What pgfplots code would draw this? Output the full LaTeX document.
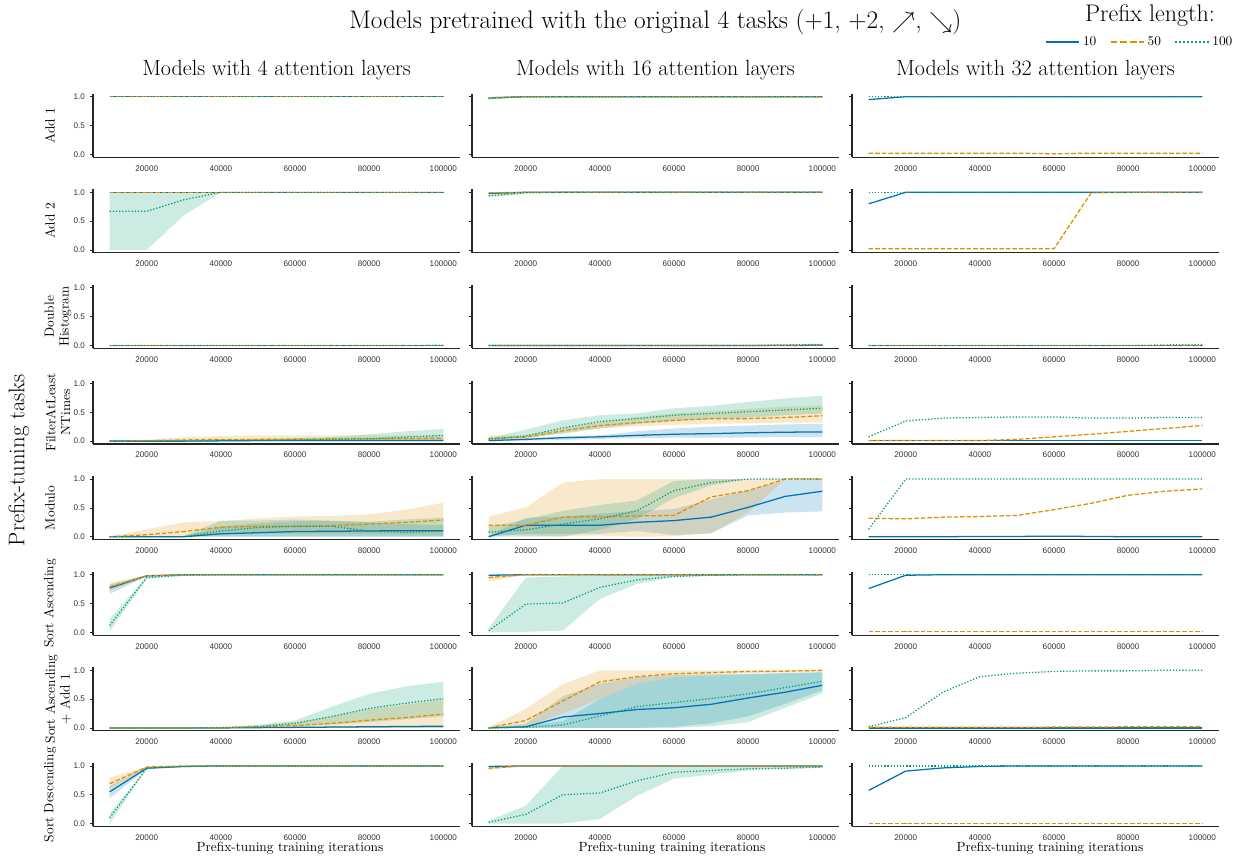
\documentclass[border=0pt]{standalone}
\usepackage{fontspec}
\usepackage{pgfplots}
\usepackage{pgfplotstable}
\pgfplotsset{compat=1.18}
\newfontfamily\ticksans{Liberation Sans}
\definecolor{c10}{HTML}{0173B2}
\definecolor{c50}{HTML}{DE8F05}
\definecolor{c100}{HTML}{029E73}
\definecolor{axgray}{HTML}{262626}
\definecolor{tickgray}{HTML}{333333}

\pgfplotsset{
  panel/.style={
    scale only axis, width=275.25pt, height=47.55pt, anchor=south west,
    xmin=5500, xmax=104500, ymin=-0.05, ymax=1.05,
    axis x line*=bottom, axis y line*=left,
    axis line style={-, line width=0.9pt, color=axgray},
    xtick={20000,40000,60000,80000,100000}, ytick={0,0.5,1},
    scaled x ticks=false,
    /pgf/number format/assume math mode=true,
    x tick label style={/pgf/number format/.cd, fixed, 1000 sep={}},
    y tick label style={/pgf/number format/.cd, fixed, fixed zerofill, precision=1},
    tick label style={font=\ticksans\fontsize{6.1}{7}\selectfont, text=tickgray},
    tick align=outside, major tick length=2.6pt,
    xtick style={draw=none},
    ytick style={line width=0.6pt, color=axgray},
    no markers,
  },
  line10/.style={c10, line width=0.95pt},
  line50/.style={c50, line width=0.95pt, dash pattern=on 3.4pt off 1.5pt},
  line100/.style={c100, line width=0.95pt, dash pattern=on 0.95pt off 1.4pt},
}

\newcommand{\bandpanel}[4]{%
\begin{axis}[panel, at={(#1,#2)}, #4]
 \addplot[draw=none, stack plots=y] table[x=x,y=l1]{#3};
 \addplot[fill=c10, fill opacity=0.2, draw=none, stack plots=y] table[x=x,y expr=\thisrow{u1}-\thisrow{l1}]{#3} \closedcycle;
 \addplot[draw=none, stack plots=y] table[x=x,y expr=\thisrow{l2}-\thisrow{u1}]{#3};
 \addplot[fill=c50, fill opacity=0.2, draw=none, stack plots=y] table[x=x,y expr=\thisrow{u2}-\thisrow{l2}]{#3} \closedcycle;
 \addplot[draw=none, stack plots=y] table[x=x,y expr=\thisrow{l3}-\thisrow{u2}]{#3};
 \addplot[fill=c100, fill opacity=0.2, draw=none, stack plots=y] table[x=x,y expr=\thisrow{u3}-\thisrow{l3}]{#3} \closedcycle;
 \addplot[line10] table[x=x,y=m1]{#3};
 \addplot[line50] table[x=x,y=m2]{#3};
 \addplot[line100] table[x=x,y=m3]{#3};
\end{axis}}

\newcommand{\linepanel}[4]{%
\begin{axis}[panel, at={(#1,#2)}, #4]
 \addplot[line10] table[x=x,y=m1]{#3};
 \addplot[line50] table[x=x,y=m2]{#3};
 \addplot[line100] table[x=x,y=m3]{#3};
\end{axis}}

% ---------------- data ----------------
\pgfplotstableread{
x m1 m2 m3
10000 1 1 1
20000 1 1 1
30000 1 1 1
40000 1 1 1
50000 1 1 1
60000 1 1 1
70000 1 1 1
80000 1 1 1
90000 1 1 1
100000 1 1 1
}\tAA
\pgfplotstableread{
x m1 l1 u1 m2 l2 u2 m3 l3 u3
10000 0.98 0.97 0.99 0.98 0.97 0.99 0.97 0.95 0.99
20000 1 1 1 1 1 1 1 1 1
30000 1 1 1 1 1 1 1 1 1
40000 1 1 1 1 1 1 1 1 1
50000 1 1 1 1 1 1 1 1 1
60000 1 1 1 1 1 1 1 1 1
70000 1 1 1 1 1 1 1 1 1
80000 1 1 1 1 1 1 1 1 1
90000 1 1 1 1 1 1 1 1 1
100000 1 1 1 1 1 1 1 1 1
}\tAB
\pgfplotstableread{
x m1 m2 m3
10000 0.95 0.02 1
20000 1 0.02 1
30000 1 0.02 1
40000 1 0.02 1
50000 1 0.02 1
60000 1 0.01 1
70000 1 0.02 1
80000 1 0.02 1
90000 1 0.02 1
100000 1 0.02 1
}\tAC
\pgfplotstableread{
x m1 l1 u1 m2 l2 u2 m3 l3 u3
10000 1 1 1 1 1 1 0.67 0 1
20000 1 1 1 1 1 1 0.67 0 1
30000 1 1 1 1 1 1 0.87 0.6 1
40000 1 1 1 1 1 1 1 1 1
50000 1 1 1 1 1 1 1 1 1
60000 1 1 1 1 1 1 1 1 1
70000 1 1 1 1 1 1 1 1 1
80000 1 1 1 1 1 1 1 1 1
90000 1 1 1 1 1 1 1 1 1
100000 1 1 1 1 1 1 1 1 1
}\tBA
\pgfplotstableread{
x m1 l1 u1 m2 l2 u2 m3 l3 u3
10000 0.98 0.97 0.99 0.99 0.98 1 0.94 0.91 0.97
20000 1 1 1 1 1 1 0.99 0.98 1
30000 1 1 1 1 1 1 1 1 1
40000 1 1 1 1 1 1 1 1 1
50000 1 1 1 1 1 1 1 1 1
60000 1 1 1 1 1 1 1 1 1
70000 1 1 1 1 1 1 1 1 1
80000 1 1 1 1 1 1 1 1 1
90000 1 1 1 1 1 1 1 1 1
100000 1 1 1 1 1 1 1 1 1
}\tBB
\pgfplotstableread{
x m1 m2 m3
10000 0.8 0.02 1
20000 1 0.02 1
30000 1 0.02 1
40000 1 0.02 1
50000 1 0.02 1
60000 1 0.02 1
70000 1 0.99 1
80000 1 1 1
90000 1 1 1
100000 1 1 1
}\tBC
\pgfplotstableread{
x m1 m2 m3
10000 0 0 0
20000 0 0 0
30000 0 0 0
40000 0 0 0
50000 0 0 0
60000 0 0 0
70000 0 0 0
80000 0 0 0
90000 0 0 0
100000 0 0 0.005
}\tCA
\pgfplotstableread{
x m1 m2 m3
10000 0 0 0
20000 0 0 0
30000 0 0 0
40000 0 0 0
50000 0 0 0
60000 0 0 0
70000 0 0 0
80000 0 0 0
90000 0 0.005 0.01
100000 0.005 0.01 0.02
}\tCB
\pgfplotstableread{
x m1 m2 m3
10000 0 0 0
20000 0 0 0
30000 0 0 0
40000 0 0 0
50000 0 0 0
60000 0 0 0
70000 0 0 0
80000 0 0 0
90000 0 0 0.01
100000 0 0 0.02
}\tCC
\pgfplotstableread{
x m1 l1 u1 m2 l2 u2 m3 l3 u3
10000 0 0 0 0 0 0 0 0 0
20000 0 0 0 0.01 0 0.02 0 0 0
30000 0 0 0.01 0.02 0 0.07 0 0 0.01
40000 0.005 0 0.01 0.03 0 0.09 0.01 0 0.03
50000 0.01 0 0.02 0.03 0 0.1 0.01 0 0.04
60000 0.01 0 0.02 0.035 0 0.1 0.02 0 0.05
70000 0.01 0 0.02 0.04 0 0.1 0.03 0 0.07
80000 0.01 0 0.02 0.04 0 0.1 0.04 0 0.12
90000 0.01 0 0.02 0.045 0 0.1 0.07 0.01 0.17
100000 0.01 0 0.02 0.05 0 0.1 0.1 0.02 0.21
}\tDA
\pgfplotstableread{
x m1 l1 u1 m2 l2 u2 m3 l3 u3
10000 0.01 0 0.02 0.05 0.01 0.1 0.03 0.02 0.05
20000 0.03 0.01 0.05 0.07 0.04 0.1 0.09 0.06 0.2
30000 0.06 0.02 0.08 0.18 0.14 0.22 0.23 0.13 0.36
40000 0.075 0.04 0.1 0.27 0.22 0.33 0.34 0.22 0.45
50000 0.1 0.05 0.17 0.32 0.26 0.42 0.39 0.3 0.48
60000 0.12 0.06 0.22 0.36 0.28 0.48 0.45 0.35 0.57
70000 0.13 0.06 0.25 0.39 0.3 0.52 0.48 0.38 0.61
80000 0.145 0.065 0.27 0.39 0.31 0.56 0.51 0.41 0.68
90000 0.155 0.07 0.29 0.41 0.32 0.6 0.54 0.45 0.74
100000 0.16 0.07 0.3 0.44 0.32 0.61 0.57 0.48 0.79
}\tDB
\pgfplotstableread{
x m1 m2 m3
10000 0.005 0.01 0.075
20000 0.005 0.01 0.35
30000 0.005 0.01 0.4
40000 0.005 0.01 0.41
50000 0.005 0.03 0.42
60000 0.005 0.075 0.42
70000 0.005 0.12 0.4
80000 0.005 0.17 0.4
90000 0.005 0.22 0.41
100000 0.005 0.27 0.41
}\tDC
\pgfplotstableread{
x m1 l1 u1 m2 l2 u2 m3 l3 u3
10000 0 0 0 0 0 0 0 0 0
20000 0 0 0 0.035 0 0.13 0 0 0
30000 0 0 0.01 0.09 0 0.25 0 0 0.01
40000 0.05 0 0.18 0.165 0.05 0.27 0.1 0 0.28
50000 0.07 0 0.23 0.18 0.06 0.32 0.16 0 0.28
60000 0.09 0 0.27 0.18 0.05 0.35 0.18 0 0.3
70000 0.095 0 0.27 0.19 0.05 0.36 0.18 0 0.28
80000 0.1 0 0.25 0.22 0.05 0.39 0.1 0 0.26
90000 0.105 0 0.22 0.25 0.03 0.47 0.075 0 0.3
100000 0.105 0 0.2 0.29 0.02 0.59 0.1 0 0.33
}\tEA
\pgfplotstableread{
x m1 l1 u1 m2 l2 u2 m3 l3 u3
10000 0 0 0.02 0.2 0.05 0.35 0.08 0 0.17
20000 0.2 0.05 0.33 0.2 0.02 0.51 0.12 0 0.3
30000 0.2 0.05 0.35 0.34 0.01 0.94 0.22 0 0.45
40000 0.2 0.05 0.4 0.35 0.02 1 0.31 0.12 0.55
50000 0.25 0.1 0.45 0.36 0 1 0.45 0.31 0.63
60000 0.28 0.03 0.48 0.37 0.01 1 0.8 0.67 0.97
70000 0.34 0.06 0.65 0.69 0.06 1 0.94 0.89 1
80000 0.51 0.37 0.8 0.8 0.42 1 1 1 1
90000 0.7 0.42 0.98 1 1 1 1 1 1
100000 0.79 0.44 1 1 1 1 1 1 1
}\tEB
\pgfplotstableread{
x m1 m2 m3
10000 0 0.32 0.13
20000 0 0.31 1
30000 0 0.34 1
40000 0.005 0.35 1
50000 0.005 0.37 1
60000 0.01 0.47 1
70000 0.005 0.58 1
80000 0 0.72 1
90000 0 0.79 1
100000 0 0.83 1
}\tEC
\pgfplotstableread{
x m1 l1 u1 m2 l2 u2 m3 l3 u3
10000 0.77 0.67 0.83 0.79 0.72 0.86 0.12 0.02 0.24
20000 0.98 0.97 0.99 0.98 0.97 0.99 0.95 0.93 0.97
30000 1 1 1 1 1 1 0.99 0.99 1
40000 1 1 1 1 1 1 1 1 1
50000 1 1 1 1 1 1 1 1 1
60000 1 1 1 1 1 1 1 1 1
70000 1 1 1 1 1 1 1 1 1
80000 1 1 1 1 1 1 1 1 1
90000 1 1 1 1 1 1 1 1 1
100000 1 1 1 1 1 1 1 1 1
}\tFA
\pgfplotstableread{
x m1 l1 u1 m2 l2 u2 m3 l3 u3
10000 0.99 0.98 1 0.95 0.88 1 0.03 0 0.07
20000 1 1 1 1 1 1 0.49 0.01 0.95
30000 1 1 1 1 1 1 0.51 0.03 0.97
40000 1 1 1 1 1 1 0.78 0.58 0.99
50000 1 1 1 1 1 1 0.91 0.84 1
60000 1 1 1 1 1 1 0.97 0.96 1
70000 1 1 1 1 1 1 0.99 0.98 1
80000 1 1 1 1 1 1 1 1 1
90000 1 1 1 1 1 1 1 1 1
100000 1 1 1 1 1 1 1 1 1
}\tFB
\pgfplotstableread{
x m1 m2 m3
10000 0.76 0.01 1
20000 0.99 0.01 1
30000 1 0.01 1
40000 1 0.01 1
50000 1 0.01 1
60000 1 0.01 1
70000 1 0.01 1
80000 1 0.01 1
90000 1 0.01 1
100000 1 0.01 1
}\tFC
\pgfplotstableread{
x m1 l1 u1 m2 l2 u2 m3 l3 u3
10000 0 0 0 0 0 0 0 0 0
20000 0 0 0 0 0 0 0 0 0
30000 0 0 0 0 0 0 0 0 0
40000 0 0 0.005 0.005 0 0.01 0.005 0 0.01
50000 0.005 0 0.01 0.02 0 0.05 0.02 0 0.05
60000 0.01 0 0.02 0.04 0 0.1 0.08 0.03 0.13
70000 0.015 0 0.025 0.08 0 0.2 0.2 0.06 0.37
80000 0.02 0 0.03 0.135 0 0.33 0.34 0.1 0.59
90000 0.025 0 0.035 0.18 0 0.4 0.43 0.15 0.72
100000 0.03 0 0.04 0.24 0 0.5 0.51 0.2 0.8
}\tGA
\pgfplotstableread{
x m1 l1 u1 m2 l2 u2 m3 l3 u3
10000 0 0 0.01 0 0 0.01 0 0 0.01
20000 0.02 0 0.07 0.13 0.01 0.33 0.01 0 0.03
30000 0.19 0 0.55 0.47 0.25 0.76 0.05 0 0.12
40000 0.25 0 0.77 0.8 0.5 1 0.21 0 0.5
50000 0.32 0 0.88 0.89 0.76 1 0.37 0 0.76
60000 0.35 0.02 0.92 0.94 0.88 1 0.44 0 0.88
70000 0.41 0.08 0.93 0.96 0.92 1 0.51 0.03 0.91
80000 0.52 0.2 0.94 0.98 0.95 1 0.59 0.1 0.93
90000 0.62 0.42 0.95 0.985 0.96 1 0.7 0.35 0.95
100000 0.74 0.65 0.96 1 0.97 1 0.81 0.6 0.97
}\tGB
\pgfplotstableread{
x m1 m2 m3
10000 0 0.01 0.02
20000 0 0.01 0.18
30000 0 0.01 0.62
40000 0 0.01 0.89
50000 0 0.01 0.95
60000 0 0.015 0.98
70000 0 0.015 0.99
80000 0 0.02 0.99
90000 0 0.02 1
100000 0 0.02 1
}\tGC
\pgfplotstableread{
x m1 l1 u1 m2 l2 u2 m3 l3 u3
10000 0.55 0.44 0.65 0.69 0.6 0.8 0.1 0 0.17
20000 0.96 0.95 0.98 0.98 0.97 0.99 0.96 0.95 0.97
30000 0.99 0.99 1 1 1 1 0.99 0.99 1
40000 1 1 1 1 1 1 1 1 1
50000 1 1 1 1 1 1 1 1 1
60000 1 1 1 1 1 1 1 1 1
70000 1 1 1 1 1 1 1 1 1
80000 1 1 1 1 1 1 1 1 1
90000 1 1 1 1 1 1 1 1 1
100000 1 1 1 1 1 1 1 1 1
}\tHA
\pgfplotstableread{
x m1 l1 u1 m2 l2 u2 m3 l3 u3
10000 0.99 0.98 1 0.96 0.93 1 0.02 0 0.05
20000 1 1 1 1 1 1 0.16 0 0.31
30000 1 1 1 1 1 1 0.5 0 1
40000 1 1 1 1 1 1 0.53 0.08 1
50000 1 1 1 1 1 1 0.74 0.48 1
60000 1 1 1 1 1 1 0.89 0.78 1
70000 1 1 1 1 1 1 0.92 0.85 1
80000 1 1 1 1 1 1 0.95 0.92 0.99
90000 1 1 1 1 1 1 0.96 0.95 0.99
100000 1 1 1 1 1 1 0.98 0.97 0.99
}\tHB
\pgfplotstableread{
x m1 m2 m3
10000 0.575 0 1
20000 0.91 0 1
30000 0.965 0 1
40000 0.99 0 1
50000 1 0 1
60000 1 0 1
70000 1 0 1
80000 1 0 1
90000 1 0 1
100000 1 0 1
}\tHC

\def\cA{69.75pt}
\def\cB{354pt}
\def\cC{639pt}
\def\noyl{yticklabels={}}

\begin{document}
\begin{tikzpicture}
\useasboundingbox (0,0) rectangle (933pt,-643.5pt);

% row 0
\linepanel{\cA}{-117.9pt}{\tAA}{}
\bandpanel{\cB}{-117.9pt}{\tAB}{\noyl}
\linepanel{\cC}{-117.9pt}{\tAC}{\noyl}
% row 1
\bandpanel{\cA}{-189.6pt}{\tBA}{}
\bandpanel{\cB}{-189.6pt}{\tBB}{\noyl}
\linepanel{\cC}{-189.6pt}{\tBC}{\noyl}
% row 2
\linepanel{\cA}{-261.3pt}{\tCA}{}
\linepanel{\cB}{-261.3pt}{\tCB}{\noyl}
\linepanel{\cC}{-261.3pt}{\tCC}{\noyl}
% row 3
\bandpanel{\cA}{-333.0pt}{\tDA}{}
\bandpanel{\cB}{-333.0pt}{\tDB}{\noyl}
\linepanel{\cC}{-333.0pt}{\tDC}{\noyl}
% row 4
\bandpanel{\cA}{-404.7pt}{\tEA}{}
\bandpanel{\cB}{-404.7pt}{\tEB}{\noyl}
\linepanel{\cC}{-404.7pt}{\tEC}{\noyl}
% row 5
\bandpanel{\cA}{-476.4pt}{\tFA}{}
\bandpanel{\cB}{-476.4pt}{\tFB}{\noyl}
\linepanel{\cC}{-476.4pt}{\tFC}{\noyl}
% row 6
\bandpanel{\cA}{-548.1pt}{\tGA}{}
\bandpanel{\cB}{-548.1pt}{\tGB}{\noyl}
\linepanel{\cC}{-548.1pt}{\tGC}{\noyl}
% row 7
\bandpanel{\cA}{-619.8pt}{\tHA}{}
\bandpanel{\cB}{-619.8pt}{\tHB}{\noyl}
\linepanel{\cC}{-619.8pt}{\tHC}{\noyl}

% legend
\begin{axis}[at={(855pt,-31.5pt)}, anchor=center, hide axis, scale only axis,
  width=1pt, height=1pt, xmin=0, xmax=1, ymin=0, ymax=1,
  legend style={at={(0.5,0.5)}, anchor=center, draw=none, fill=none,
    legend columns=3, font=\fontsize{10}{11}\selectfont, inner sep=0pt,
    /tikz/every even column/.append style={column sep=8pt}},
  legend image code/.code={\draw[#1] (0pt,0pt) -- (25pt,0pt);}]
\addlegendimage{c10, line width=1.5pt}\addlegendentry{10}
\addlegendimage{c50, line width=1.5pt, dash pattern=on 5pt off 2.2pt}\addlegendentry{50}
\addlegendimage{c100, line width=1.5pt, dash pattern=on 1.4pt off 1.6pt}\addlegendentry{100}
\end{axis}

% texts
\node[font=\fontsize{19}{21}\selectfont] at (491.5pt,-17pt) {Models pretrained with the original 4 tasks (+1, +2, $\nearrow$, $\searrow$)};
\node[font=\fontsize{18}{20}\selectfont] at (862.5pt,-12pt) {Prefix length:};
\foreach \xc/\nl in {207.4pt/4, 491.6pt/16, 776.6pt/32}
  \node[font=\fontsize{16.5}{18}\selectfont] at (\xc,-52.5pt) {Models with \nl\ attention layers};
\foreach \xc in {217.5pt, 504pt, 787.5pt}
  \node[font=\fontsize{10}{12}\selectfont] at (\xc,-636pt) {Prefix-tuning training iterations};
\node[rotate=90, font=\fontsize{17}{19}\selectfont] at (14pt,-345pt) {Prefix-tuning tasks};
\begin{scope}[every node/.style={rotate=90, align=center, font=\fontsize{10}{11}\selectfont}]
\node at (37.5pt,-94.1pt) {Add 1};
\node at (37.5pt,-165.8pt) {Add 2};
\node at (43.5pt,-237.5pt) {Double\\Histogram};
\node at (43.5pt,-309.2pt) {FilterAtLeast\\NTimes};
\node at (37.5pt,-380.9pt) {Modulo};
\node at (37.5pt,-452.6pt) {Sort Ascending};
\node at (43.5pt,-524.3pt) {Sort Ascending\\+ Add 1};
\node at (37.5pt,-596.0pt) {Sort Descending};
\end{scope}
\end{tikzpicture}
\end{document}
